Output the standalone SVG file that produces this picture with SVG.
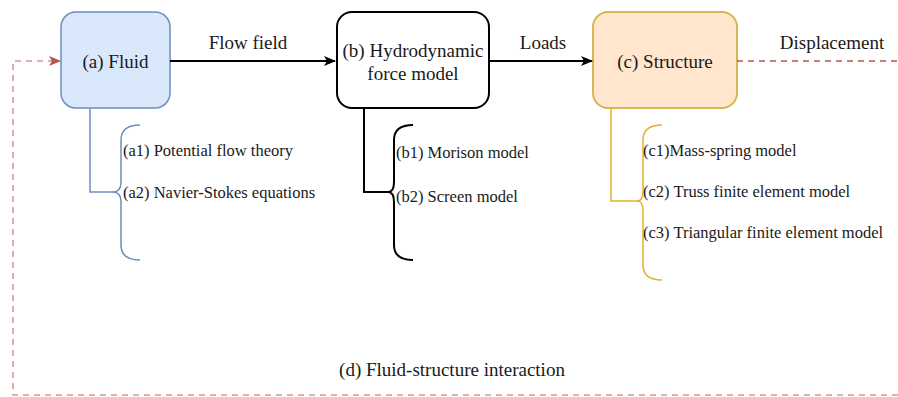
<svg xmlns="http://www.w3.org/2000/svg" width="898" height="397" viewBox="0 0 898 397" font-family="'Liberation Serif', 'DejaVu Serif', serif">
<defs>
<marker id="ah" markerWidth="12" markerHeight="10" refX="11" refY="5" orient="auto" markerUnits="userSpaceOnUse">
<path d="M0,0 L12,5 L0,10 L3,5 Z" fill="#000"/>
</marker>
<marker id="ahr" markerWidth="12" markerHeight="10" refX="11" refY="5" orient="auto" markerUnits="userSpaceOnUse">
<path d="M0,0 L12,5 L0,10 L3,5 Z" fill="#b85450"/>
</marker>
</defs>
<style>
text{font-family:'Liberation Serif','DejaVu Serif',serif;fill:#1a1a1a}
.lbl{font-size:19px;text-anchor:middle}
.item{font-size:16.5px}
.edge{fill:none;stroke:#000;stroke-width:2}
.dash{fill:none;stroke:#b85450;stroke-width:1.5;stroke-dasharray:6 5}
</style>
<g id="fluid">
<rect x="61" y="12" width="109" height="96" rx="15" fill="#dae8fc" stroke="#6c8ebf" stroke-width="1.5"/>
<text class="lbl" x="115.5" y="68">(a) Fluid</text>
<path d="M90,108 V192 H113" fill="none" stroke="#6c8ebf" stroke-width="1.5"/>
<path d="M140,125 Q121,125 121,140 V182 Q121,192 113,192 Q121,192 121,202 V245 Q121,260 140,260" fill="none" stroke="#6c8ebf" stroke-width="1.5"/>
<text class="item" x="123" y="156">(a1) Potential flow theory</text>
<text class="item" x="123" y="198">(a2) Navier-Stokes equations</text>
</g>
<g id="hydro">
<rect x="337" y="12" width="152" height="96" rx="15" fill="#fff" stroke="#000" stroke-width="2"/>
<text class="lbl" x="413" y="57">(b) Hydrodynamic</text>
<text class="lbl" x="413" y="80">force model</text>
<path d="M364,108 V192 H390" fill="none" stroke="#000" stroke-width="2"/>
<path d="M413,125 Q394,125 394,140 V182 Q394,192 388,192 Q394,192 394,202 V245 Q394,260 413,260" fill="none" stroke="#000" stroke-width="2"/>
<text class="item" x="396" y="158">(b1) Morison model</text>
<text class="item" x="396" y="202">(b2) Screen model</text>
</g>
<g id="structure">
<rect x="593" y="12" width="144" height="96" rx="15" fill="#ffe6cc" stroke="#d6b656" stroke-width="2"/>
<text class="lbl" x="665" y="68">(c) Structure</text>
<path d="M611,108 V201 H637" fill="none" stroke="#e3b22a" stroke-width="1.5"/>
<path d="M662,125 Q643,125 643,140 V191 Q643,201 637,201 Q643,201 643,211 V265 Q643,280 662,280" fill="none" stroke="#e3b22a" stroke-width="1.5"/>
<text class="item" x="643" y="156">(c1)Mass-spring model</text>
<text class="item" x="643" y="197">(c2) Truss finite element model</text>
<text class="item" x="643" y="238">(c3) Triangular finite element model</text>
</g>
<g id="connectors">
<line class="edge" x1="170" y1="61" x2="335" y2="61" marker-end="url(#ah)"/>
<text class="lbl" x="248" y="49">Flow field</text>
<line class="edge" x1="489" y1="61" x2="592" y2="61" marker-end="url(#ah)"/>
<text class="lbl" x="543" y="49">Loads</text>
<line class="dash" x1="737" y1="61" x2="898" y2="61"/>
<text class="lbl" x="832" y="49">Displacement</text>
<path class="dash" d="M898,395 H13 V61 H60" marker-end="url(#ahr)" stroke-opacity="0.6"/>
<text class="lbl" x="452" y="376">(d) Fluid-structure interaction</text>
</g>
</svg>
